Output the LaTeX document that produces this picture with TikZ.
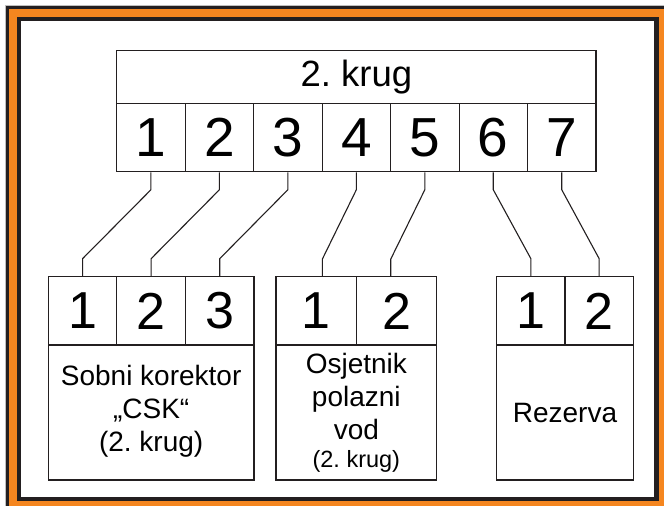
\documentclass[tikz,border=0pt]{standalone}
\usepackage{fontspec}
\setmainfont{Liberation Sans}
\usetikzlibrary{calc}
\definecolor{frameorange}{RGB}{245,134,31}
\definecolor{darkline}{RGB}{35,31,32}
\frenchspacing
\begin{document}
\begin{tikzpicture}[x=1pt,y=-1pt,
  boxline/.style={draw=darkline, line width=1.1pt, inner sep=0pt},
  topcell/.style={boxline, minimum width=68.47pt, minimum height=68.4pt, font=\fontsize{55}{60}\selectfont},
  botcell/.style={boxline, minimum height=68.3pt, font=\fontsize{52}{56}\selectfont},
  labelbox/.style={boxline, minimum height=135pt, align=center, font=\fontsize{28}{33}\selectfont},
  wire/.style={draw=darkline, line width=1.1pt}
]
\useasboundingbox (0,0) rectangle (664,506);
% frame
\fill[frameorange] (6,6) rectangle (664,506);
\draw[black!25, line width=0.8pt] (5.2,506) -- (5.2,5.2) -- (664,5.2);
\draw[darkline, line width=3.2pt] (7.6,506) -- (7.6,7.6) -- (664,7.6);
\fill[white] (21,21) rectangle (654,497);
\draw[darkline, line width=4.3pt] (19,19) rectangle (656.5,499);

% top connector block
\node[boxline, minimum width=479.3pt, minimum height=52.6pt, font=\fontsize{36.5}{40}\selectfont] (hdr) at (356.35,77) {2. krug};
\foreach \i in {1,...,7} {
  \node[topcell] (t\i) at ({116.7+34.235+68.47*(\i-1)},137.5) {\i};
}

% box 1
\foreach \i in {1,2,3} {
  \node[botcell, minimum width=68.57pt] (a\i) at ({48.3+34.285+68.57*(\i-1)},310.85) {\i};
}
\node[labelbox, minimum width=205.7pt] (la) at (151.15,412.5) {};
\node[align=center, font=\fontsize{28}{33}\selectfont] (lat) at (151.15,411.5) {Sobni korektor\\„CSK“\\(2. krug)};

% box 2
\foreach \i in {1,2} {
  \node[botcell, minimum width=80.35pt] (b\i) at ({276+40.175+80.35*(\i-1)},310.85) {\i};
}
\node[labelbox, minimum width=160.7pt] (lb) at (356.35,412.5) {};
\node[align=center, font=\fontsize{28}{33}\selectfont] (lbt) at (356.35,413) {Osjetnik\\polazni\\vod\\[-5pt]{\fontsize{23.5}{26}\selectfont (2. krug)}};

% box 3
\foreach \i in {1,2} {
  \node[botcell, minimum width=68.3pt] (c\i) at ({496.7+34.15+68.3*(\i-1)},310.85) {\i};
}
\node[labelbox, minimum width=136.6pt] (lc) at (565,412.5) {};
\node[font=\fontsize{28}{33}\selectfont] (lct) at (565,413) {Rezerva};

% pin points on box 2
\coordinate (bp1) at (322.3,276.7);
\coordinate (bp2) at (390.7,276.7);

% wires
\foreach \s/\d in {t1/a1.north, t2/a2.north, t3/a3.north, t4/bp1, t5/bp2, t6/c1.north, t7/c2.north} {
  \draw[wire] (\s.south) -- ($(\s.south)+(0,17.5)$) -- ($(\d)+(0,-17.5)$) -- (\d);
}
\end{tikzpicture}
\end{document}
